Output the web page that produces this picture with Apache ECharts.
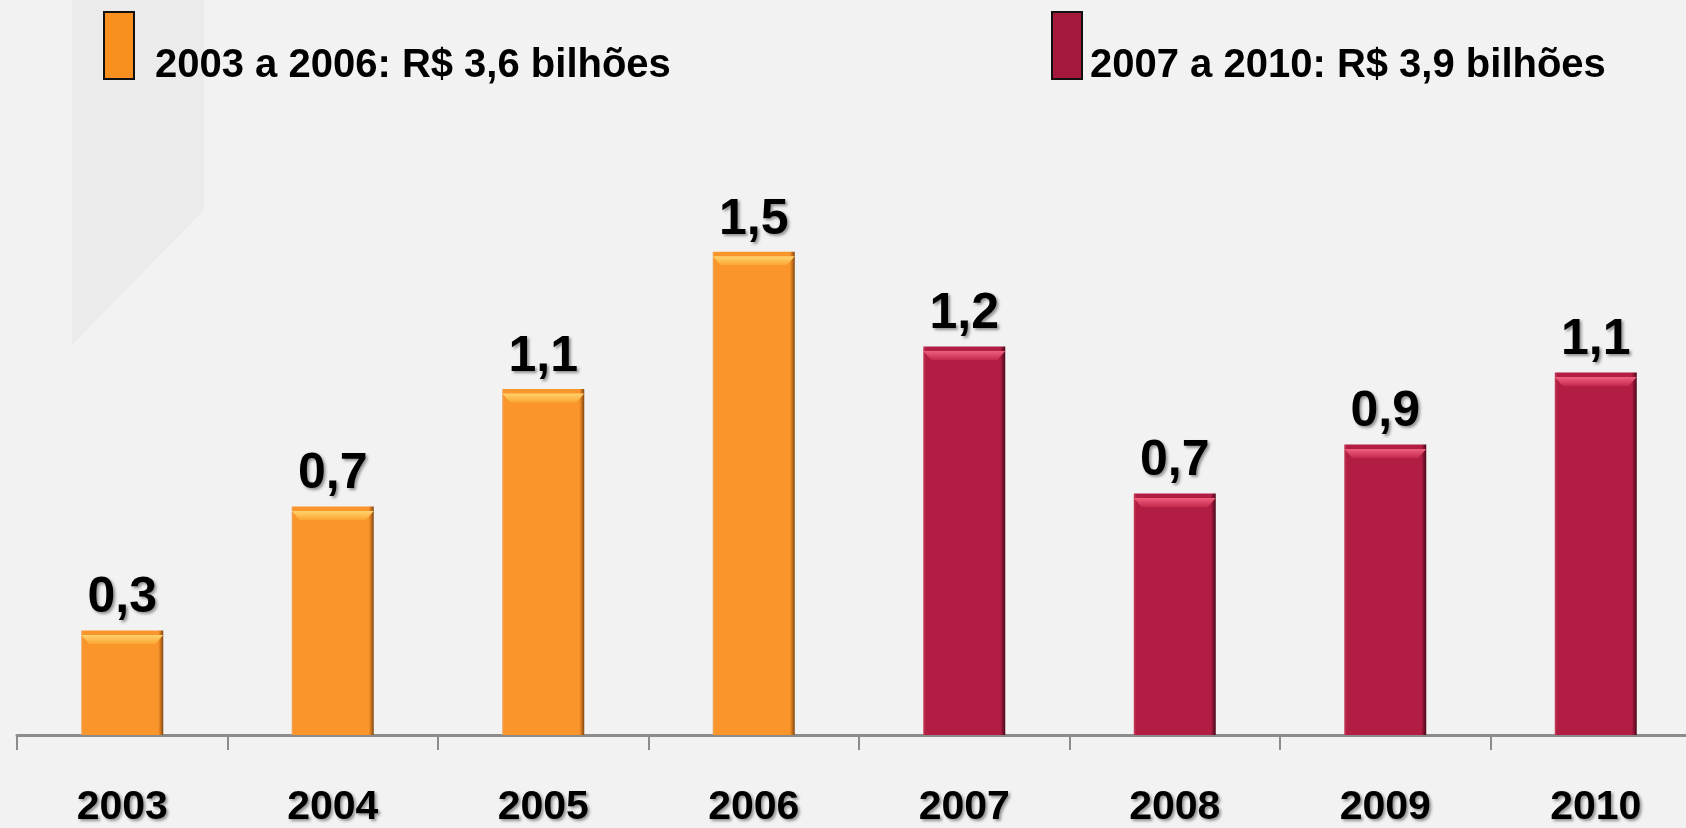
<!DOCTYPE html>
<html>
<head>
<meta charset="utf-8">
<script src="https://cdn.jsdelivr.net/npm/echarts@6/dist/echarts.min.js"></script>
<style>
html,body{margin:0;padding:0;background:#f2f2f2;overflow:hidden;width:1686px;height:828px;}
#chart{width:1701px;height:828px;}
</style>
</head>
<body>
<div id="chart"></div>
<script>
const categories = ['2003','2004','2005','2006','2007','2008','2009','2010'];
const period1Name = '2003 a 2006: R$ 3,6 bilhões';
const period2Name = '2007 a 2010: R$ 3,9 bilhões';
const period1Values = [0.32, 0.70, 1.06, 1.48, '-', '-', '-', '-'];
const period2Values = ['-', '-', '-', '-', 1.19, 0.74, 0.89, 1.11];
const valueLabels = ['0,3','0,7','1,1','1,5','1,2','0,7','0,9','1,1'];

const FONT = '"Liberation Sans", Arial, sans-serif';
const chart = echarts.init(document.getElementById('chart'));

function sideGrad(edgeL, main, edgeR, shadow) {
  return new echarts.graphic.LinearGradient(0, 0, 1, 0, [
    {offset: 0, color: edgeL},
    {offset: 0.03, color: main},
    {offset: 0.94, color: main},
    {offset: 0.97, color: edgeR},
    {offset: 1, color: shadow}
  ]);
}
function topGrad(c1, c2) {
  return new echarts.graphic.LinearGradient(0, 0, 0, 1, [
    {offset: 0, color: c1},
    {offset: 1, color: c2}
  ]);
}
const labelStyle = {
  show: true,
  position: 'top',
  distance: 7,
  fontFamily: FONT,
  fontWeight: 'bold',
  fontSize: 50,
  color: '#000',
  textShadowColor: 'rgba(0,0,0,0.4)',
  textShadowBlur: 3,
  textShadowOffsetX: 2,
  textShadowOffsetY: 2,
  formatter: p => valueLabels[p.dataIndex]
};
const bevel = 'path://M0,0 L82,0 L74,9 L8,9 Z';

chart.setOption({
  backgroundColor: '#f2f2f2',
  animation: false,
  graphic: [
    {type: 'polygon', silent: true, z: -10, shape: {points: [[72,0],[204,0],[204,210],[150,265],[72,345]]}, style: {fill: '#ebebeb'}},
    {type: 'rect', left: 103, top: 11, shape: {width: 30, height: 67}, style: {fill: '#F7901E', stroke: '#111', lineWidth: 2}},
    {type: 'text', left: 155, top: 46, style: {text: period1Name, font: 'bold 40px ' + FONT, fill: '#000'}},
    {type: 'rect', left: 1051, top: 11, shape: {width: 30, height: 67}, style: {fill: '#A4183C', stroke: '#111', lineWidth: 2}},
    {type: 'text', left: 1090, top: 46, style: {text: period2Name, font: 'bold 40px ' + FONT, fill: '#000'}}
  ],
  grid: {left: 17, top: 82, right: 0, height: 669, containLabel: false},
  xAxis: {
    type: 'category',
    data: categories,
    axisLine: {lineStyle: {color: '#8c8c8c', width: 3}},
    axisTick: {show: true, length: 15, lineStyle: {color: '#8c8c8c', width: 2}},
    axisLabel: {margin: 52, fontFamily: FONT, fontWeight: 'bold', fontSize: 41, color: '#000',
      textShadowColor: 'rgba(0,0,0,0.4)', textShadowBlur: 3, textShadowOffsetX: 2, textShadowOffsetY: 2}
  },
  yAxis: {type: 'value', min: 0, max: 2, show: false, splitLine: {show: false}},
  series: [
    {
      name: period1Name, type: 'bar', data: period1Values, barWidth: 82, barGap: '-100%',
      itemStyle: {color: sideGrad('#F0A050', '#F9952A', '#C8701C', '#7a4512')},
      label: labelStyle
    },
    {
      name: period2Name, type: 'bar', data: period2Values, barWidth: 82, barGap: '-100%',
      itemStyle: {color: sideGrad('#C8405E', '#B21E43', '#7e1230', '#4a0818')},
      label: labelStyle
    },
    {
      type: 'pictorialBar', data: period1Values, symbol: bevel, symbolSize: [82, 9],
      symbolPosition: 'end', symbolOffset: [0, '50%'], barGap: '-100%', z: 5, silent: true,
      itemStyle: {color: topGrad('#FFD36E', '#FBA632')}
    },
    {
      type: 'pictorialBar', data: period2Values, symbol: bevel, symbolSize: [82, 9],
      symbolPosition: 'end', symbolOffset: [0, '50%'], barGap: '-100%', z: 5, silent: true,
      itemStyle: {color: topGrad('#F0607E', '#C42A4E')}
    }
  ]
});
</script>
</body>
</html>
